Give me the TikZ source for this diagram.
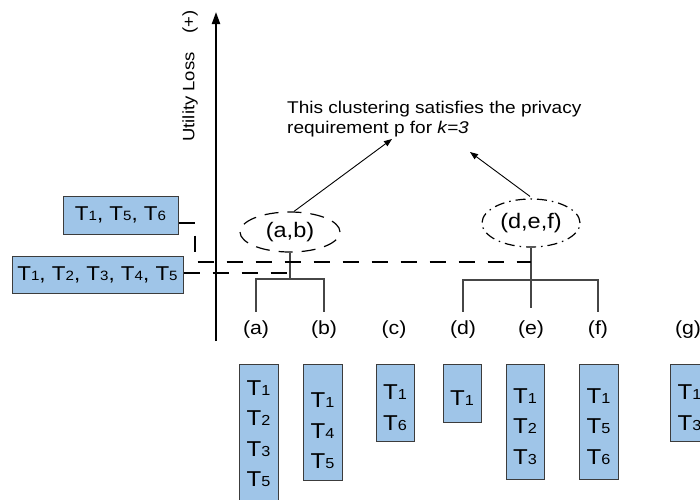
\documentclass[tikz,border=0pt]{standalone}
\usepackage{fontspec}
\setmainfont{Liberation Sans}[FakeStretch=1.12]
\usetikzlibrary{shapes.geometric,arrows.meta,calc}
\definecolor{boxfill}{RGB}{159,197,232}
\definecolor{boxline}{RGB}{60,60,60}
\definecolor{treegray}{RGB}{70,70,70}
\newcommand{\Tx}[1]{T{\fontsize{13.5}{14}\selectfont #1}}
\newcommand{\Ty}[1]{T{\fontsize{14.5}{14}\selectfont #1}}
\begin{document}
\begin{tikzpicture}[x=1pt,y=-1pt,
  tbox/.style={draw=boxline, fill=boxfill, line width=1pt, inner sep=0pt},
  ttext/.style={font=\fontsize{21.5}{30.5}\selectfont, align=center, inner sep=0pt},
  lbl/.style={font=\fontsize{19}{19}\selectfont, inner sep=0pt},
  elbl/.style={font=\fontsize{21}{21}\selectfont, inner sep=0pt},
  tree/.style={draw=treegray, line width=1.3pt},
  dsh/.style={line width=2pt, dash pattern=on 16pt off 13pt},
  arr/.style={line width=0.9pt, -{Triangle[length=8pt,width=6pt]}}]
\useasboundingbox (0,0) rectangle (700,499);
\clip (0,0) rectangle (700,499);

% axis
\coordinate (ax0) at (216,341);
\coordinate (ax1) at (216,12);
\draw[line width=2pt, -{Triangle[length=12pt,width=8pt]}] (ax0) -- (ax1);
\node[rotate=90, anchor=east, font=\fontsize{16.5}{16.5}\selectfont, inner sep=0pt] (ul) at (190,10) {Utility Loss\hspace{19pt}(+)};

% note
\node[font=\fontsize{17}{20}\selectfont, align=left, anchor=north west, inner sep=0pt] (note) at (287,101)
  {This clustering satisfies the privacy\\requirement p for \textit{k=3}};
\coordinate (n1) at (392,139);
\coordinate (n2) at (470,152);

% clusters
\node[ellipse, draw, line width=1.2pt, dash pattern=on 14pt off 9pt, minimum width=100pt, minimum height=40pt, elbl] (ab) at (290,232) {(a,b)};
\node[ellipse, draw, line width=1.2pt, dash pattern=on 10pt off 5pt on 1.5pt off 5pt, minimum width=98pt, minimum height=48pt, elbl] (def) at (531,223) {(d,e,f)};
\draw[arr] ($(ab.north)+(4,0)$) -- (n1);
\draw[arr] ($(def.north)+(-1,-2)$) -- (n2);

% leaf labels
\node[lbl] (la) at (256,330) {(a)};
\node[lbl] (lb) at (324,330) {(b)};
\node[lbl] (lc) at (394,330) {(c)};
\node[lbl] (ld) at (463,330) {(d)};
\node[lbl] (le) at (531,330) {(e)};
\node[lbl] (lf) at (598,330) {(f)};
\node[lbl] (lg) at (688,330) {(g)};

% trees
\coordinate (ja) at (290,279);
\coordinate (jd) at (531,280);
\draw[tree] (ab.south) -- (ja);
\draw[tree] ($(la.north)+(0,-9)$) |- (ja) -| ($(lb.north)+(0,-9)$);
\draw[tree] (def.south) -- (jd) -- ($(le.north)+(0,-13)$);
\draw[tree] ($(ld.north)+(0,-9)$) |- (jd) -| ($(lf.north)+(0,-9)$);

% cut boxes
\node[tbox, minimum width=115pt, minimum height=38pt, font=\fontsize{20}{20}\selectfont] (hb1) at (120.5,215) {\Tx1, \Tx5, \Tx6};
\node[tbox, minimum width=171pt, minimum height=37pt, font=\fontsize{20}{20}\selectfont] (hb2) at (97.5,274.5) {\Tx1, \Tx2, \Tx3, \Tx4, \Tx5};
\coordinate (c1) at (195,223);
\coordinate (d1) at (195,262);
\coordinate (d2) at (531,262);
\coordinate (c2) at (290,273);
\draw[dsh] (hb1.east |- c1) -- (c1) -- (d1) -- (d2);
\draw[dsh] (hb2.east |- c2) -- (c2);

% leaf boxes
\node[tbox, minimum width=39pt, minimum height=150pt, anchor=north] (ba) at (258.5,364) {};
\node[tbox, minimum width=39pt, minimum height=116pt, anchor=north] (bb) at (322.5,364) {};
\node[tbox, minimum width=38pt, minimum height=77pt, anchor=north] (bc) at (395,364) {};
\node[tbox, minimum width=38pt, minimum height=58pt, anchor=north] (bd) at (462,364) {};
\node[tbox, minimum width=38pt, minimum height=115pt, anchor=north] (be) at (525,364) {};
\node[tbox, minimum width=39pt, minimum height=115pt, anchor=north] (bf) at (598.5,364) {};
\node[tbox, minimum width=39pt, minimum height=77pt, anchor=north] (bg) at (689.5,364) {};
\node[ttext] (ta) at (258.5,433.5) {\Ty1\\\Ty2\\\Ty3\\\Ty5};
\node[ttext] (tb) at (322.5,431) {\Ty1\\\Ty4\\\Ty5};
\node[ttext] (tc) at (395,407.5) {\Ty1\\\Ty6};
\node[ttext] (td) at (462,398) {\Ty1};
\node[ttext] (te) at (525,426.5) {\Ty1\\\Ty2\\\Ty3};
\node[ttext] (tf) at (598.5,426.5) {\Ty1\\\Ty5\\\Ty6};
\node[ttext] (tg) at (689.5,407.5) {\Ty1\\\Ty3};
\end{tikzpicture}
\end{document}
